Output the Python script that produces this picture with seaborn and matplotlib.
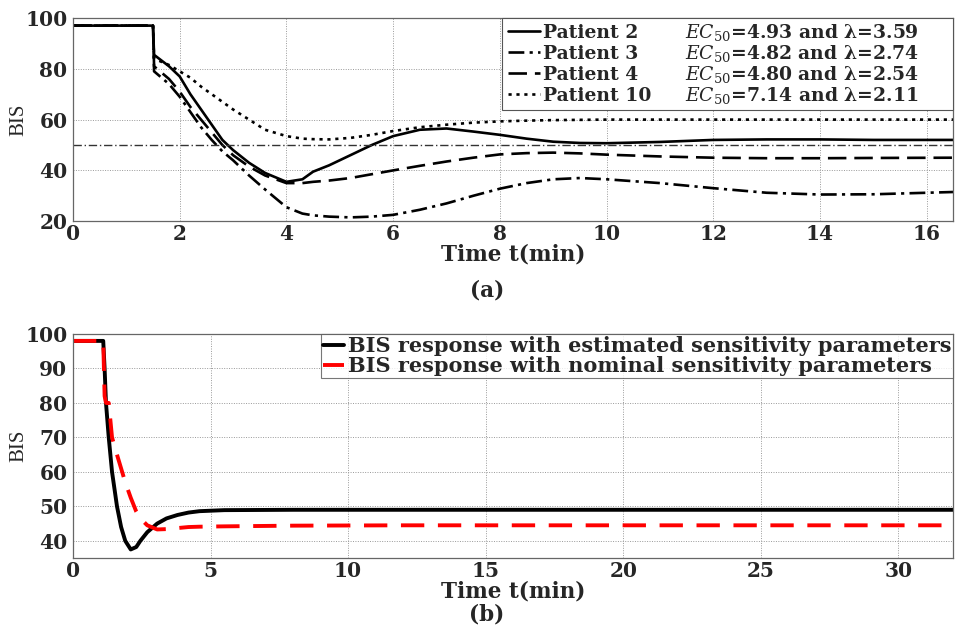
import numpy as np
import pandas as pd
import seaborn as sns
import matplotlib.pyplot as plt
from matplotlib.lines import Line2D
from matplotlib.patches import Rectangle

sns.set_theme(style="white")
plt.rcParams['font.family'] = ['DejaVu Serif', 'Liberation Serif']
plt.rcParams['mathtext.fontset'] = 'dejavuserif'

# (a) patient responses
t_a = [0, 1.5, 1.52, 1.8, 2.0, 2.2, 2.4, 2.6, 2.8, 3.0, 3.3, 3.6, 4.0, 4.3, 4.5,
       4.8, 5.2, 5.6, 6.0, 6.5, 7.0, 7.5, 8.0, 8.5, 9.0, 9.5, 10, 11, 12, 13, 14, 15, 16.5]
p2 = [97, 97, 85.5, 81, 77, 70, 64, 58, 52, 48, 43, 39, 35.5, 36.5, 39.5,
      42, 46, 50, 53.5, 56, 56.5, 55.3, 54, 52.5, 51.3, 50.8, 50.7, 51.2, 52, 52.2, 52.2, 52, 52]
p3 = [97, 97, 79, 74, 69, 63, 57, 52, 47.5, 44, 38, 32.5, 25.5, 23, 22.3,
      21.8, 21.5, 21.8, 22.5, 24.5, 27, 30, 32.8, 35, 36.5, 37, 36.5, 35, 33, 31.2, 30.5, 30.6, 31.5]
p4 = [97, 97, 81, 76, 71, 65, 60, 55, 50, 46, 41.5, 38, 35, 35, 35.5,
      36, 37, 38.5, 40, 41.8, 43.5, 45, 46.3, 46.8, 47, 46.7, 46.2, 45.5, 45, 44.8, 44.8, 44.9, 45]
p10 = [97, 97, 84, 81.5, 79, 76.5, 73, 70, 67, 64, 60, 56, 53.5, 52.5, 52.3,
       52.2, 52.8, 54, 55.5, 57, 58, 58.8, 59.3, 59.6, 59.8, 59.9, 60, 60, 60, 60, 60, 60, 60]
target_bis = 50
patients = ["Patient 2", "Patient 3", "Patient 4", "Patient 10"]
params = ["4.93 and λ=3.59", "4.82 and λ=2.74", "4.80 and λ=2.54", "7.14 and λ=2.11"]

# (b) estimated vs nominal
t_b = [0, 1.1, 1.15, 1.2, 1.3, 1.42, 1.6, 1.75, 1.9, 2.1, 2.3, 2.45, 2.7, 3.06,
       3.4, 3.8, 4.2, 4.6, 5.5, 8, 12, 20, 32]
bis_est = [98, 98, 90, 80, 70, 60, 50, 44, 40, 37.5, 38.2, 40, 42.5, 45,
           46.5, 47.5, 48.2, 48.6, 48.9, 49, 49, 49, 49]
bis_nom = [98, 98, 82, 80, 80, 70, 65, 61, 57, 52.5, 48.5, 46.5, 44.5, 43.3,
           43.4, 43.7, 44, 44.1, 44.2, 44.4, 44.5, 44.5, 44.5]

fig = plt.figure(figsize=(9.55, 6.32), dpi=100)
ax1 = fig.add_axes([0.0764, 0.650, 0.922, 0.3215])
ax2 = fig.add_axes([0.0764, 0.117, 0.922, 0.3545])

styles = ["-", (0, (6, 2, 1.2, 2)), (0, (7, 3)), (0, (1.2, 1.8))]
for name, vals, ls in zip(patients, [p2, p3, p4, p10], styles):
    sns.lineplot(x=t_a, y=vals, ax=ax1, color="black", linestyle=ls, lw=1.9,
                 estimator=None, sort=False, label=name)
ax1.axhline(target_bis, color="#333333", lw=1.0, linestyle=(0, (6, 2, 1, 2)))

ax1.set_xlim(0, 16.5)
ax1.set_ylim(20, 100)
ax1.set_xticks(range(0, 17, 2))
ax1.set_yticks(range(20, 101, 20))

# legend (a): patient names, with the EC50 / lambda column placed beside it
leg_x0 = 0.4875
handles = [Line2D([], [], color="black", lw=1.9, linestyle=ls) for ls in styles]
leg = ax1.legend(handles, patients, loc="upper left", bbox_to_anchor=(leg_x0, 1.0),
                 borderaxespad=0, frameon=False, handlelength=1.7,
                 handletextpad=0.2, labelspacing=0.16, borderpad=0.3,
                 prop={"weight": "bold", "size": 13.5})
leg.set_zorder(6)
fig.canvas.draw()
inv = ax1.transAxes.inverted()
bb = inv.transform(leg.get_window_extent())
ax1.add_patch(Rectangle((leg_x0, bb[0][1]), 1.0 - leg_x0, 1.0 - bb[0][1],
                        transform=ax1.transAxes, facecolor="white",
                        edgecolor="#555555", lw=0.8, zorder=5, clip_on=False))
for txt, p in zip(leg.get_texts(), params):
    tb = inv.transform(txt.get_window_extent())
    ax1.text(0.6955, (tb[0][1] + tb[1][1]) / 2, r"$EC_{50}$" + "=" + p,
             transform=ax1.transAxes, va="center", ha="left", zorder=7,
             fontsize=13.5, fontweight="bold")

sns.lineplot(x=t_b, y=bis_est, ax=ax2, color="black", lw=2.8, estimator=None,
             sort=False, label="BIS response with estimated sensitivity parameters")
sns.lineplot(x=t_b, y=bis_nom, ax=ax2, color="red", lw=2.8, linestyle=(0, (6, 3.5)),
             estimator=None, sort=False,
             label="BIS response with nominal sensitivity parameters")
ax2.set_xlim(0, 32)
ax2.set_ylim(35, 100)
ax2.set_xticks(range(0, 31, 5))
ax2.set_yticks(range(40, 101, 10))
leg2 = ax2.legend(loc="upper right", bbox_to_anchor=(1.0, 1.0), borderaxespad=0,
                  frameon=True, fancybox=False, edgecolor="#555555",
                  handlelength=1.0, handletextpad=0.2, labelspacing=0.0,
                  borderpad=0.1, prop={"weight": "bold", "size": 15})
leg2.get_frame().set_linewidth(0.8)

for ax in (ax1, ax2):
    ax.set_xlabel("Time t(min)", fontsize=15.5, fontweight="bold", labelpad=0)
    ax.set_ylabel("BIS", fontsize=15, family="Liberation Serif", labelpad=-2)
    ax.grid(True, color="#999999", linestyle=(0, (1, 1.5)), lw=0.7)
    for s in ax.spines.values():
        s.set_color("#666666")
        s.set_linewidth(0.9)
    ax.tick_params(labelsize=14.5, length=0)
    ax.tick_params(axis="x", pad=2)
    ax.tick_params(axis="y", pad=4)
    for lab in ax.get_xticklabels() + ax.get_yticklabels():
        lab.set_fontweight("bold")

fig.text(0.51, 0.541, "(a)", ha="center", va="center", fontsize=15.5, fontweight="bold")
fig.text(0.51, 0.027, "(b)", ha="center", va="center", fontsize=15.5, fontweight="bold")

fig.savefig("out.png", dpi=100)
